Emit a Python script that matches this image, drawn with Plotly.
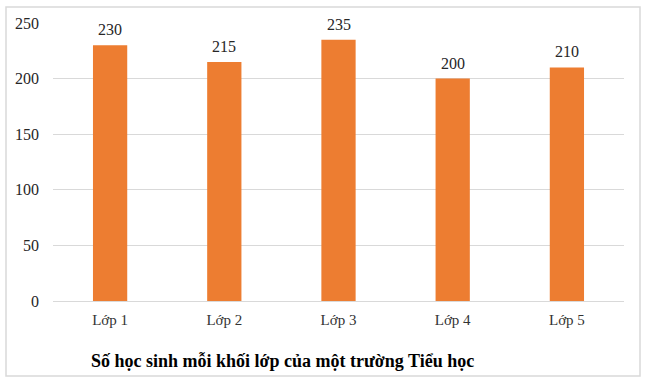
import plotly.graph_objects as go

categories = ["Lớp 1", "Lớp 2", "Lớp 3", "Lớp 4", "Lớp 5"]
values = [230, 215, 235, 200, 210]
y_ticks = [0, 50, 100, 150, 200, 250]
title = "Số học sinh mỗi khối lớp của một trường Tiểu học"

W, H = 646, 382
L, R, T, B = 53, 22, 23, 81
pw, ph = W - L - R, H - T - B

def px_x(x):
    return (x - L) / pw

def px_y(y):
    return (H - B - y) / ph

fig = go.Figure(go.Bar(
    x=categories, y=values, width=0.3,
    marker=dict(color="#ED7D31", line=dict(width=0)),
))

label_anns = [dict(x=c, y=v, xref="x", yref="y", text=str(v), showarrow=False,
                   yanchor="bottom", xanchor="center", yshift=5,
                   font=dict(family="Liberation Serif", size=16, color="#262626"))
              for c, v in zip(categories, values)]

fig.update_layout(
    width=W, height=H,
    margin=dict(l=L, r=R, t=T, b=B),
    paper_bgcolor="white", plot_bgcolor="white",
    showlegend=False,
    font=dict(family="Liberation Serif", size=15, color="#404040"),
    xaxis=dict(showgrid=False, showline=True, linecolor="#D9D9D9", linewidth=1,
               ticks="", tickfont=dict(size=15, color="#333333"), ticklabelstandoff=5),
    yaxis=dict(range=[0, 250], tickvals=y_ticks, showgrid=True, gridcolor="#D9D9D9",
               gridwidth=1, zeroline=False, showline=False, ticks="",
               tickfont=dict(size=16, color="#262626"), ticklabelstandoff=13),
    shapes=[dict(type="rect", xref="paper", yref="paper",
                 x0=px_x(6), x1=px_x(640), y0=px_y(376), y1=px_y(7),
                 line=dict(color="#D9D9D9", width=1.5), fillcolor="rgba(0,0,0,0)")],
    annotations=label_anns + [dict(text="<b>" + title + "</b>", xref="paper", yref="paper",
                      x=px_x(282), y=px_y(361), xanchor="center", yanchor="middle",
                      showarrow=False,
                      font=dict(family="Liberation Serif", size=18, color="#000000"))],
)

fig.write_html("out.html", config={"displayModeBar": False},
               post_script="document.body.style.margin='0';document.body.style.overflow='hidden';")
